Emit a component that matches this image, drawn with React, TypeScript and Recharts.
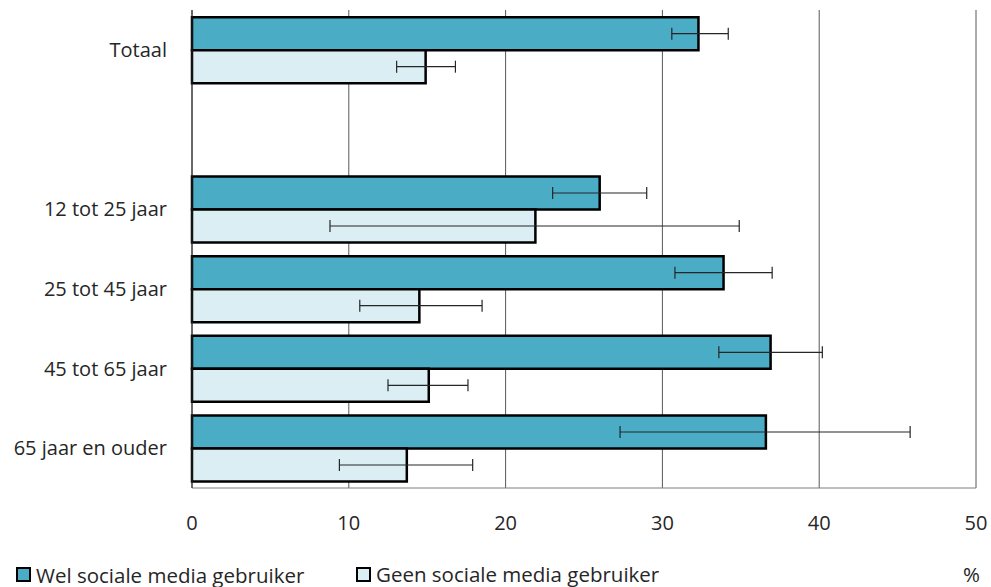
import {
  BarChart,
  Bar,
  XAxis,
  YAxis,
  CartesianGrid,
  Legend,
  ErrorBar,
} from 'recharts';

const categories = ['Totaal', '', '12 tot 25 jaar', '25 tot 45 jaar', '45 tot 65 jaar', '65 jaar en ouder'];

// percentages with 95% intervals (lower/upper)
const welValues = [32.3, null, 26.0, 33.9, 36.9, 36.6];
const welLow = [30.6, null, 23.0, 30.8, 33.6, 27.3];
const welHigh = [34.2, null, 29.0, 37.0, 40.2, 45.8];

const geenValues = [14.9, null, 21.9, 14.5, 15.1, 13.7];
const geenLow = [13.05, null, 8.8, 10.7, 12.5, 9.4];
const geenHigh = [16.8, null, 34.9, 18.5, 17.6, 17.9];

const xTicks = [0, 10, 20, 30, 40, 50];

const WEL_COLOR = '#4BACC6';
const GEEN_COLOR = '#DAEEF3';
const FONT = '"Open Sans", Lato, sans-serif';
const TEXT = '#262626';

const chartData = categories.map((name, i) => ({
  name,
  wel: welValues[i],
  geen: geenValues[i],
  welErr: welValues[i] == null ? undefined : [welValues[i]! - welLow[i]!, welHigh[i]! - welValues[i]!],
  geenErr: geenValues[i] == null ? undefined : [geenValues[i]! - geenLow[i]!, geenHigh[i]! - geenValues[i]!],
}));

function LegendContent() {
  const item = (color: string, label: string) => (
    <span style={{ display: 'inline-flex', alignItems: 'center' }}>
      <span
        style={{
          display: 'inline-block',
          width: 11,
          height: 11,
          background: color,
          border: '2px solid #000',
          marginRight: 5,
        }}
      />
      {label}
    </span>
  );
  return (
    <div
      style={{
        position: 'relative',
        width: 991,
        fontFamily: FONT,
        fontSize: 20.5,
        color: TEXT,
        display: 'flex',
        alignItems: 'center',
      }}
    >
      <span style={{ marginLeft: 16, width: 340 }}>{item(WEL_COLOR, 'Wel sociale media gebruiker')}</span>
      {item(GEEN_COLOR, 'Geen sociale media gebruiker')}
      <span style={{ position: 'absolute', right: 11 }}>%</span>
    </div>
  );
}

export default function App() {
  return (
    <div style={{ position: 'absolute', left: 0, top: 0, background: '#fff' }}>
      <BarChart
        width={991}
        height={587}
        data={chartData}
        layout="vertical"
        margin={{ top: 10, right: 15, left: 0, bottom: 0 }}
        barCategoryGap="9%"
        barGap={0}
      >
        <CartesianGrid horizontal={false} vertical stroke="#595959" strokeWidth={1} />
        <XAxis
          type="number"
          domain={[0, 50]}
          ticks={xTicks}
          interval={0}
          height={99}
          tickLine={false}
          tickMargin={22}
          axisLine={{ stroke: '#7f7f7f' }}
          tick={{ fontSize: 20, fontFamily: FONT, fill: TEXT }}
        />
        <XAxis
          xAxisId="top"
          orientation="top"
          type="number"
          domain={[0, 50]}
          height={0}
          tick={false}
          tickLine={false}
          axisLine={{ stroke: '#7f7f7f' }}
        />
        <YAxis
          type="category"
          dataKey="name"
          width={192}
          tickLine={false}
          tickMargin={19}
          axisLine={{ stroke: '#262626' }}
          tick={{ fontSize: 20, fontFamily: FONT, fill: TEXT }}
        />
        <YAxis
          yAxisId="right"
          orientation="right"
          type="category"
          dataKey="name"
          width={0}
          tick={false}
          tickLine={false}
          axisLine={{ stroke: '#7f7f7f' }}
        />
        <Legend
          verticalAlign="middle"
          align="center"
          wrapperStyle={{ top: 560, left: 0, width: 991 }}
          content={() => <LegendContent />}
        />
        <Bar dataKey="wel" fill={WEL_COLOR} stroke="#000" strokeWidth={2.5} isAnimationActive={false}>
          <ErrorBar dataKey="welErr" direction="x" width={6} stroke="#262626" strokeWidth={1.2} />
        </Bar>
        <Bar dataKey="geen" fill={GEEN_COLOR} stroke="#000" strokeWidth={2.5} isAnimationActive={false}>
          <ErrorBar dataKey="geenErr" direction="x" width={6} stroke="#262626" strokeWidth={1.2} />
        </Bar>
      </BarChart>
    </div>
  );
}
